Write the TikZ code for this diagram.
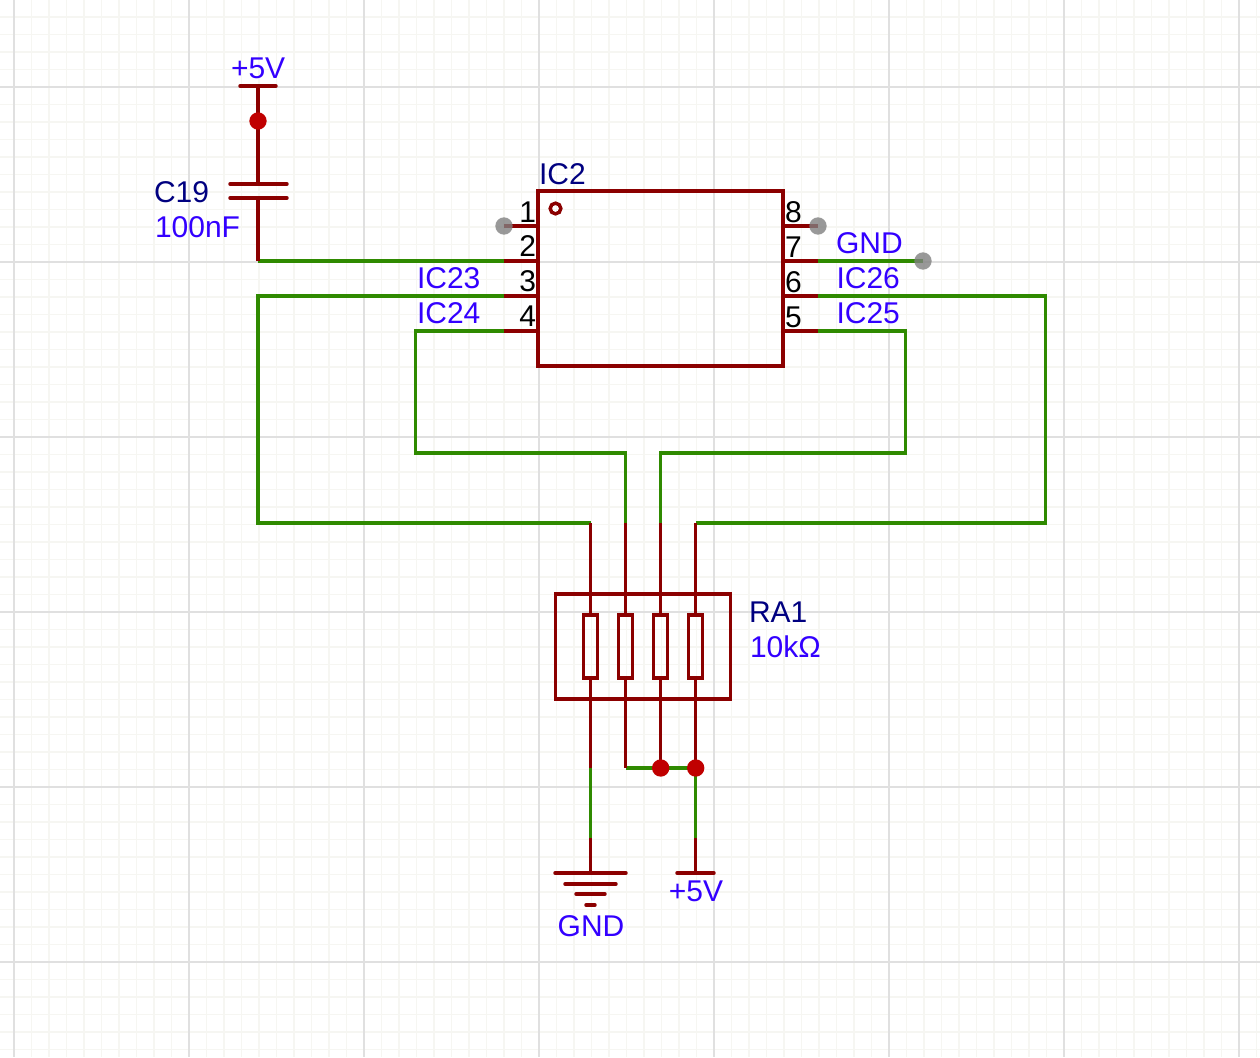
\documentclass[tikz,border=0pt]{standalone}
\usepackage{fontspec}
\setmainfont{Liberation Sans}
\definecolor{wirered}{HTML}{8B0000}
\definecolor{wiregreen}{HTML}{2F8A00}
\definecolor{netblue}{HTML}{3300FF}
\definecolor{refnavy}{HTML}{000080}
\definecolor{gridmajor}{HTML}{E0E0E0}
\definecolor{gridminor}{HTML}{F6F6F2}
\definecolor{dotred}{HTML}{C00000}
\tikzset{
  px/.style={x=0.75pt,y=-0.75pt},
  pinwire/.style={draw=wirered,line width=2.6pt,line join=miter},
  barwire/.style={draw=wirered,line width=2.6pt,line cap=round},
  netwire/.style={draw=wiregreen,line width=2.6pt,line join=miter},
  part/.style={draw=wirered,line width=2.6pt,fill=none,inner sep=0pt,outer sep=0pt},
  txt/.style={font=\fontsize{22.5}{24}\selectfont,inner sep=0pt,outer sep=0pt},
  netlabel/.style={txt,text=netblue,anchor=base west},
  reflabel/.style={txt,text=refnavy,anchor=base west},
  pinleft/.style={txt,text=black,anchor=base east},
  pinright/.style={txt,text=black,anchor=base west},
  junction/.style={circle,fill=dotred,minimum size=13pt,inner sep=0pt},
  openend/.style={circle,fill=gray,fill opacity=.8,minimum size=13pt,inner sep=0pt},
  resistor/.style={part,minimum width=10.5pt,minimum height=47.25pt},
}
\begin{document}
\begin{tikzpicture}[px]
\useasboundingbox (0,0) rectangle (1260,1057);
\fill[white] (0,0) rectangle (1260,1057);
% grid
\foreach \k in {0,...,72}{\draw[gridminor,line width=1.4pt] ({-3.5+17.5*\k},0) -- ({-3.5+17.5*\k},1057);}
\foreach \k in {0,...,60}{\draw[gridminor,line width=1.4pt] (0,{-0.5+17.5*\k}) -- (1260,{-0.5+17.5*\k});}
\foreach \k in {0,...,7}{\draw[gridmajor,line width=1.6pt] ({14+175*\k},0) -- ({14+175*\k},1057);}
\foreach \k in {0,...,5}{\draw[gridmajor,line width=1.6pt] (0,{87+175*\k}) -- (1260,{87+175*\k});}

% parts
\node[part,minimum width=183.75pt,minimum height=131.25pt] (ic) at (660.5,278.5) {};
\node[circle,draw=wirered,line width=2.6pt,minimum size=8pt,inner sep=0pt] (icmark) at (555.5,208.5) {};
\node[part,minimum width=131.25pt,minimum height=78.75pt] (ra) at (643,646.3) {};
\node[resistor] (r1) at (590.7,646.3) {};
\node[resistor] (r2) at (625.7,646.3) {};
\node[resistor] (r3) at (660.7,646.3) {};
\node[resistor] (r4) at (695.7,646.3) {};

% coordinates
\coordinate (vtop) at (258,86);
\coordinate (vtopa) at (240,86);
\coordinate (vtopb) at (276,86);
\coordinate (capa) at (258,184);
\coordinate (capb) at (258,198);
\coordinate (capal) at (230,184);
\coordinate (capar) at (287,184);
\coordinate (capbl) at (230,198);
\coordinate (capbr) at (287,198);
\coordinate (corner) at (258,261);
\coordinate (p1) at (538,226);
\coordinate (p2) at (538,261);
\coordinate (p3) at (538,296);
\coordinate (p4) at (538,331);
\coordinate (p8) at (783,226);
\coordinate (p7) at (783,261);
\coordinate (p6) at (783,296);
\coordinate (p5) at (783,331);
\coordinate (e1) at (504,226);
\coordinate (e2) at (504,261);
\coordinate (e3) at (504,296);
\coordinate (e4) at (504,331);
\coordinate (e8) at (818,226);
\coordinate (e7) at (818,261);
\coordinate (e6) at (818,296);
\coordinate (e5) at (818,331);
\coordinate (nc7) at (923,261);
\coordinate (t1) at (590.7,523);
\coordinate (t2) at (625.7,523);
\coordinate (t3) at (660.7,523);
\coordinate (t4) at (695.7,523);
\coordinate (b1) at (590.7,768);
\coordinate (b2) at (625.7,768);
\coordinate (b3) at (660.7,768);
\coordinate (b4) at (695.7,768);
\coordinate (g1) at (590.7,838);
\coordinate (g4) at (695.7,838);
\coordinate (gnd) at (590.7,873);
\coordinate (v2) at (695.7,873);

% green nets
\draw[netwire] (corner) -- (e2);
\draw[netwire] (e3) -| (258,523) -- (t1);
\draw[netwire] (e4) -| (415.7,453) -| (t2);
\draw[netwire] (e7) -- (nc7);
\draw[netwire] (e6) -| (1045.5,523) -- (t4);
\draw[netwire] (e5) -| (905.5,453) -| (t3);
\draw[netwire] (b2) -- (b4);
\draw[netwire] (b1) -- (g1);
\draw[netwire] (b4) -- (g4);

% red pins
\foreach \a/\b in {p1/e1,p2/e2,p3/e3,p4/e4,p8/e8,p7/e7,p6/e6,p5/e5}{\draw[pinwire] (\a) -- (\b);}
\draw[barwire] (vtopa) -- (vtopb);
\draw[pinwire] (vtop) -- (capa);
\draw[pinwire] (capb) -- (corner);
\draw[barwire] (capal) -- (capar);
\draw[barwire] (capbl) -- (capbr);
\draw[pinwire] (t1) -- (r1.north);
\draw[pinwire] (t2) -- (r2.north);
\draw[pinwire] (t3) -- (r3.north);
\draw[pinwire] (t4) -- (r4.north);
\draw[pinwire] (r1.south) -- (b1);
\draw[pinwire] (r2.south) -- (b2);
\draw[pinwire] (r3.south) -- (b3);
\draw[pinwire] (r4.south) -- (b4);
\draw[pinwire] (g1) -- (gnd);
\draw[pinwire] (g4) -- (v2);
\draw[barwire] (555,873) -- (626,873);
\draw[barwire] (565,884) -- (616,884);
\draw[barwire] (576,894) -- (605,894);
\draw[barwire] (586,905) -- (595,905);
\draw[barwire] (677,873) -- (714,873);

% junctions and open ends
\node[junction] (j1) at (258,121) {};
\node[junction] (j2) at (660.7,768) {};
\node[junction] (j3) at (695.7,768) {};
\node[openend] (n1) at (e1) {};
\node[openend] (n8) at (e8) {};
\node[openend] (n7) at (nc7) {};

% labels
\node[netlabel] (l5v) at (231,78) {+5V};
\node[reflabel] (lc) at (154,202) {C19};
\node[netlabel] (lcv) at (155,237) {100nF};
\node[reflabel] (lic) at (539,184) {IC2};
\node[netlabel] (l23) at (417,288) {IC23};
\node[netlabel] (l24) at (417,323) {IC24};
\node[netlabel] (lg) at (836,253) {GND};
\node[netlabel] (l26) at (836.5,288) {IC26};
\node[netlabel] (l25) at (836.5,323) {IC25};
\node[reflabel] (lra) at (749,622) {RA1};
\node[netlabel] (lrv) at (750,657) {10kΩ};
\node[netlabel,anchor=base] (lg2) at (591,936) {GND};
\node[netlabel,anchor=base] (l5b) at (696,901) {+5V};
\node[pinleft] (n1t) at (536,222) {1};
\node[pinleft] (n2t) at (536,256) {2};
\node[pinleft] (n3t) at (536,291) {3};
\node[pinleft] (n4t) at (536,326) {4};
\node[pinright] (n8t) at (785,222) {8};
\node[pinright] (n7t) at (785,257) {7};
\node[pinright] (n6t) at (785,292) {6};
\node[pinright] (n5t) at (785,327) {5};
\end{tikzpicture}
\end{document}
